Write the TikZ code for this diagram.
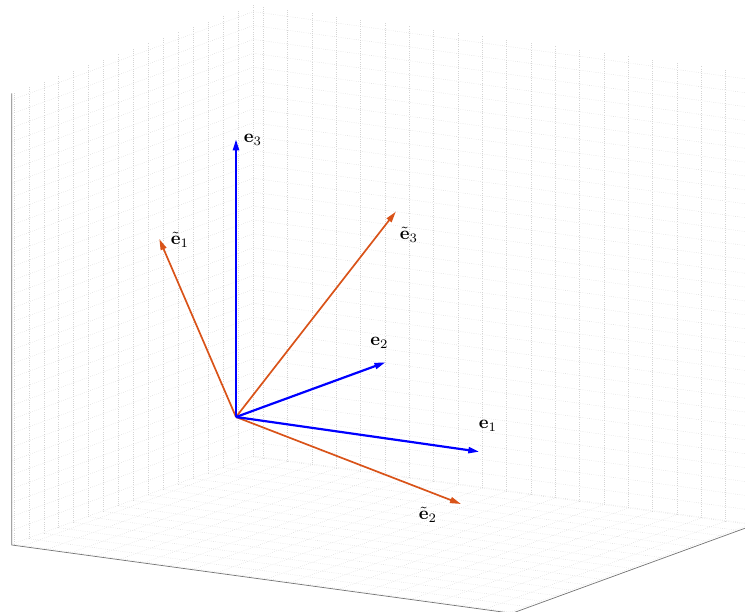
\documentclass[tikz,border=0pt]{standalone}
\usetikzlibrary{arrows.meta,calc}
\definecolor{mblue}{RGB}{0,0,255}
\definecolor{morange}{RGB}{217,83,25}
\begin{document}
\begin{tikzpicture}[x=1pt,y=-1pt,
  gridl/.style={black!17, line width=0.4pt, dash pattern=on 0.6pt off 1.6pt},
  axisl/.style={black!55, line width=0.7pt},
  vecb/.style={mblue, line width=2.2pt, -{Triangle[length=11pt,width=6pt]}},
  veco/.style={morange, line width=1.7pt, -{Triangle[length=11pt,width=6pt]}},
  lab/.style={scale=1.85, inner sep=0pt}]
\useasboundingbox (0,0) rectangle (745,612);
\coordinate (L) at (11.7,545);
\coordinate (B) at (253.3,456.8);
\coordinate (F) at (512,613.3);
\coordinate (R) at (753.6,525.1);
\coordinate (LT) at (11.7,93.3);
\begin{scope}
\clip (0,0) rectangle (745,612);
% left wall: lines of constant y
\foreach \j in {0,...,16} {
  \draw[gridl] ($(B)+(-14.97*\j,5.46*\j)$) -- ++(0,-451.7);
}
% left wall and back wall: lines of constant z
\foreach \m in {0,...,32} {
  \draw[gridl] ($(L)+(0,-0.8-13.885*\m)$) -- ($(B)+(0,-0.8-13.885*\m)$) -- ($(R)+(0,-0.8-13.885*\m)$);
}
% back wall: lines of constant x
\foreach \k in {0,...,20} {
  \draw[gridl] ($(B)+(10+24.33*\k,1.36+3.32*\k)$) -- ++(0,-451.7);
}
% floor: lines of constant x
\foreach \k in {0,...,20} {
  \draw[gridl] ($(L)+(10+24.33*\k,1.36+3.32*\k)$) -- ($(B)+(10+24.33*\k,1.36+3.32*\k)$);
}
% floor: lines of constant y
\foreach \j in {0,...,16} {
  \draw[gridl] ($(B)+(-14.97*\j,5.46*\j)$) -- ++(500.3,68.3);
}
% axis lines
\draw[axisl] (LT) -- (L) -- (F) -- (R);
\end{scope}
% vectors
\coordinate (O) at (236,417);
\coordinate (t1) at (479.3,451.7);
\coordinate (t2) at (385.5,362.3);
\coordinate (t3) at (236,139.3);
\coordinate (s1) at (159.3,239);
\coordinate (s2) at (461,504);
\coordinate (s3) at (395.8,211.7);
\draw[veco] (O) -- (s1);
\draw[veco] (O) -- (s2);
\draw[veco] (O) -- (s3);
\draw[vecb] (O) -- (t1);
\draw[vecb] (O) -- (t2);
\draw[vecb] (O) -- (t3);
% labels
\node[lab] (le1) at (488,426) {$\mathbf{e}_1$};
\node[lab] (le2) at (379.5,343) {$\mathbf{e}_2$};
\node[lab] (le3) at (253,140) {$\mathbf{e}_3$};
\node[lab] (ls1) at (180,240) {$\tilde{\mathbf{e}}_1$};
\node[lab] (ls2) at (428,515) {$\tilde{\mathbf{e}}_2$};
\node[lab] (ls3) at (409,235) {$\tilde{\mathbf{e}}_3$};
\end{tikzpicture}
\end{document}
